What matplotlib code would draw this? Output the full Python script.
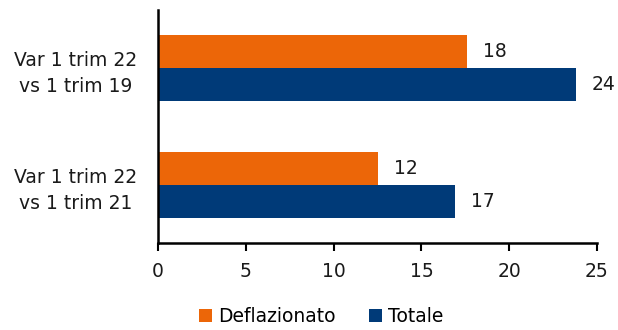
import matplotlib.pyplot as plt
import numpy as np

categories = ['Var 1 trim 22\nvs 1 trim 19', 'Var 1 trim 22\nvs 1 trim 21']
deflazionato = [17.6, 12.5]
totale = [23.8, 16.9]
series_names = ['Deflazionato', 'Totale']
xticks = [0, 5, 10, 15, 20, 25]

orange = '#EC6608'
navy = '#003A78'

plt.rcParams['font.family'] = ['DejaVu Sans']

fig = plt.figure(figsize=(6.18, 3.3), dpi=100)
ax = fig.add_axes([0.2557, 0.2636, 0.7103, 0.7061])

y = np.arange(len(categories))
h = 0.285
b1 = ax.barh(y - h / 2, deflazionato, height=h, color=orange, label=series_names[0])
b2 = ax.barh(y + h / 2, totale, height=h, color=navy, label=series_names[1])

# value labels to the right of each bar
for bars, vals in ((b1, deflazionato), (b2, totale)):
    for bar, v in zip(bars, vals):
        ax.annotate(f'{v:.0f}', (bar.get_width(), bar.get_y() + bar.get_height() / 2),
                    xytext=(28, 0), textcoords='offset pixels',
                    ha='center', va='center', fontsize=13.5, color='#1a1a1a')

ax.set_xlim(0, 25)
ax.set_ylim(1.5, -0.5)
ax.set_xticks(xticks)
ax.set_yticks(y)
ax.set_yticklabels(categories, multialignment='center', linespacing=1.45)
ax.tick_params(axis='y', length=0, pad=15, labelsize=13.5, labelcolor='#1a1a1a')
ax.tick_params(axis='x', direction='out', length=6, width=1.5, labelsize=13.5,
               labelcolor='#1a1a1a', pad=8)

for s in ('top', 'right'):
    ax.spines[s].set_visible(False)
ax.spines['left'].set_linewidth(1.8)
ax.spines['bottom'].set_linewidth(1.8)

fig.legend(handles=[b1, b2], loc='lower center', bbox_to_anchor=(0.52, -0.04),
           ncol=2, frameon=False, fontsize=13.5, handlelength=0.7, handleheight=0.7,
           handletextpad=0.3, columnspacing=1.8)

fig.savefig('out.png', dpi=100)
